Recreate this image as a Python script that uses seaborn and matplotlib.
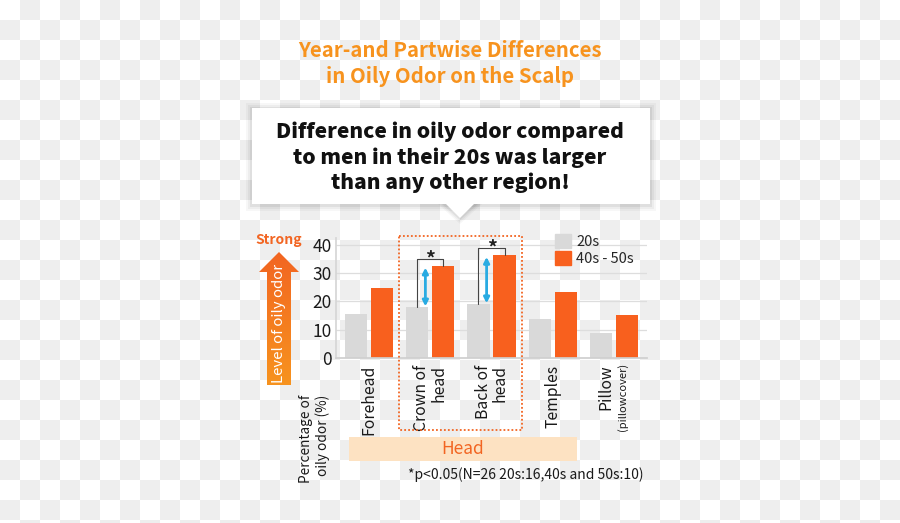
import numpy as np
import pandas as pd
import matplotlib
matplotlib.use("Agg")
import matplotlib.pyplot as plt
from matplotlib.patches import Rectangle, Polygon
from matplotlib.colors import ListedColormap, LinearSegmentedColormap
import seaborn as sns

# data
regions = ["Forehead", "Crown of\nhead", "Back of\nhead", "Temples", "Pillow"]
age_groups = ["20s", "40s - 50s"]
odor_20s = [15.5, 17.9, 19.0, 13.7, 8.6]
odor_40s_50s = [24.7, 32.6, 36.4, 23.4, 15.0]
significant = [False, True, True, False, False]
yticks = [0, 10, 20, 30, 40]

ORANGE = "#f8601e"
GREY = "#d9d9d9"
TITLE_ORANGE = "#f7931e"
RED_ORANGE = "#f26522"

W, H = 900, 523

sns.set_theme(style="white")
plt.rcParams["font.family"] = ["Noto Sans CJK JP", "DejaVu Sans"]

df = pd.DataFrame({
    "region": regions * 2,
    "age": [age_groups[0]] * len(regions) + [age_groups[1]] * len(regions),
    "value": odor_20s + odor_40s_50s,
})

fig = plt.figure(figsize=(W / 100, H / 100), dpi=100)

# background checkerboard (pixel coords)
bg = fig.add_axes([0, 0, 1, 1], zorder=-5)
bg.axis("off")
nr, nc = int(np.ceil(H / 20)), int(np.ceil(W / 20))
board = np.indices((nr, nc)).sum(axis=0) % 2
bg.imshow(board, cmap=ListedColormap(["#ffffff", "#eeeeee"]), interpolation="nearest",
          extent=(0, nc * 20, nr * 20, 0), aspect="auto")
bg.set_xlim(0, W)
bg.set_ylim(H, 0)

# main bar chart
ax = fig.add_axes([336 / W, 1 - 357.7 / H, 311 / W, 119.7 / H])
ax.set_facecolor("none")
sns.barplot(data=df, x="region", y="value", hue="age", palette={age_groups[0]: GREY, age_groups[1]: ORANGE},
            width=0.85, gap=0.15, saturation=1, linewidth=0, legend=False, ax=ax)
ax.set_xlim(-0.54, 4.54)
ax.set_ylim(0, 42.5)
ax.set_yticks(yticks)
ax.set_yticklabels([str(t) for t in yticks], fontsize=12.5, color="#1a1a1a")
for t in yticks[1:]:
    ax.axhline(t, color="#dddddd", lw=0.9, zorder=0)
ax.set_xlabel("")
ax.set_ylabel("")
ax.tick_params(axis="both", length=0, pad=3)
for s in ["top", "right"]:
    ax.spines[s].set_visible(False)
ax.spines["left"].set_color("#d6d6d6")
ax.spines["bottom"].set_color("#cfcfcf")

# x labels, rotated
ax.set_xticks(range(len(regions)))
ax.set_xticklabels([r if r != "Pillow" else "" for r in regions], rotation=90, fontsize=11.3,
                   color="#1a1a1a", va="top", ha="center", multialignment="right", linespacing=1.0)
ax.tick_params(axis="x", pad=5)
pidx = regions.index("Pillow")
ax.annotate("Pillow", xy=(pidx, 0), xycoords="data", xytext=(-6, -4.5), textcoords="offset points",
            rotation=90, ha="center", va="top", fontsize=11.3, color="#1a1a1a")
ax.annotate("(pillowcover)", xy=(pidx, 0), xycoords="data", xytext=(6, -3.5), textcoords="offset points",
            rotation=90, ha="center", va="top", fontsize=8, color="#1a1a1a")

# significance brackets and blue arrows
off = 0.85 / 4
for i, sig in enumerate(significant):
    if not sig:
        continue
    a, b = odor_20s[i], odor_40s_50s[i]
    top = b + 2.5
    ax.plot([i - off, i - off, i + off, i + off], [a, top, top, b], color="#444444", lw=0.8, zorder=4)
    ax.text(i, top + 0.1, "*", ha="center", va="center", fontsize=14, fontweight="bold", color="#222222")
    ax.annotate("", xy=(i - 0.08, b - 0.6), xytext=(i - 0.08, a + 0.3),
                arrowprops=dict(arrowstyle="<|-|>", color="#29abe2", lw=2, mutation_scale=8,
                                shrinkA=0, shrinkB=0), zorder=5)

# legend
handles = [Rectangle((0, 0), 1, 1, color=GREY), Rectangle((0, 0), 1, 1, color=ORANGE)]
ax.legend(handles, age_groups, loc="upper left", bbox_to_anchor=(555 / W, 1 - 234 / H),
          bbox_transform=fig.transFigure, frameon=False, fontsize=10.5, handlelength=1.1,
          handleheight=1.1, handletextpad=0.35, labelspacing=0.15, borderpad=0, borderaxespad=0)

# overlay for annotations (pixel coords)
fg = fig.add_axes([0, 0, 1, 1], zorder=10)
fg.set_facecolor("none")
fg.axis("off")

fg.text(450, 63.5, "Year-and Partwise Differences\nin Oily Odor on the Scalp", ha="center", va="center",
        fontsize=14.7, fontweight="bold", color=TITLE_ORANGE, linespacing=1.3)

# callout box with soft shadow
bx0, by0, bx1, by1 = 252, 108, 650, 204
for k, alpha in [(6, 0.03), (4, 0.04), (2, 0.06)]:
    fg.add_patch(Rectangle((bx0 - k, by0 - k + 1), bx1 - bx0 + 2 * k, by1 - by0 + 2 * k,
                           facecolor="#000000", alpha=alpha, lw=0))
    fg.add_patch(Polygon([(444 - k, by1), (476 + k, by1), (460, 218 + k)], closed=True,
                         facecolor="#000000", alpha=alpha, lw=0))
fg.add_patch(Rectangle((bx0, by0), bx1 - bx0, by1 - by0, facecolor="white", lw=0))
fg.add_patch(Polygon([(445, by1 - 1), (475, by1 - 1), (460, 218)], closed=True, facecolor="white", lw=0))
fg.text(450, 157.5, "Difference in oily odor compared\nto men in their 20s was larger\nthan any other region!",
        ha="center", va="center", fontsize=15.1, fontweight="heavy", color="#111111", linespacing=1.3)

# "Strong" gradient arrow
fg.text(279, 240, "Strong", ha="center", va="center", fontsize=10, fontweight="bold", color=RED_ORANGE)
arrow_pts = [(279, 252), (299, 272), (291, 272), (291, 385), (267, 385), (267, 272), (259, 272)]
arrow = Polygon(arrow_pts, closed=True, facecolor="none", lw=0)
fg.add_patch(arrow)
grad = np.linspace(0, 1, 256).reshape(-1, 1)
gimg = fg.imshow(grad, cmap=LinearSegmentedColormap.from_list("g", [RED_ORANGE, TITLE_ORANGE]),
                 extent=(259, 299, 385, 252), aspect="auto", zorder=2)
gimg.set_clip_path(arrow)
fg.set_xlim(0, W)
fg.set_ylim(H, 0)
fg.text(279, 323, "Level of oily odor", rotation=90, ha="center", va="center", fontsize=10.8,
        color="white", zorder=3)

# y-axis caption
fg.text(314.5, 395, "Percentage of\noily odor (%)", rotation=90, ha="center", va="top",
        multialignment="right", fontsize=9.8, color="#1a1a1a", linespacing=1.15)

# dotted outline around the two head regions
fg.add_patch(Rectangle((399, 236), 123, 194, facecolor="none", edgecolor=RED_ORANGE, lw=1.3,
                       linestyle=(0, (1, 1.2))))

# "Head" band
fg.add_patch(Rectangle((349, 437), 228, 24, facecolor="#fde2c2", lw=0))
fg.text(463, 449.5, "Head", ha="center", va="center", fontsize=12.5, color=RED_ORANGE)

fg.text(643, 475, "*p<0.05(N=26 20s:16,40s and 50s:10)", ha="right", va="center", fontsize=10,
        color="#1a1a1a")

fig.savefig("out.png", dpi=100)
